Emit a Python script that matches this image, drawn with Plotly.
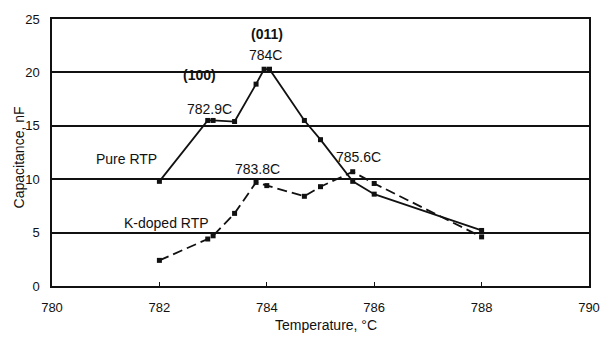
import plotly.graph_objects as go

# Data
pure_x = [782.0, 782.9, 783.0, 783.4, 783.8, 783.95, 784.05, 784.7, 785.0, 785.6, 786.0, 788.0]
pure_y = [9.8, 15.5, 15.5, 15.4, 18.9, 20.3, 20.3, 15.5, 13.7, 9.8, 8.6, 5.2]

kdoped_x = [782.0, 782.9, 783.0, 783.4, 783.8, 784.0, 784.7, 785.0, 785.6, 786.0, 788.0]
kdoped_y = [2.4, 4.4, 4.7, 6.8, 9.7, 9.4, 8.4, 9.3, 10.7, 9.6, 4.6]

x_ticks = [780, 782, 784, 786, 788, 790]
y_ticks = [0, 5, 10, 15, 20, 25]

label_texts = ["(011)", "784C", "(100)", "782.9C", "Pure RTP", "783.8C", "785.6C", "K-doped RTP"]
label_x = [784.01, 783.98, 782.75, 782.93, 781.39, 783.82, 785.71, 782.13]
label_y = [23.6, 21.65, 19.8, 16.55, 11.85, 11.0, 12.05, 5.9]
label_bold = [True, False, True, False, False, False, False, False]

FONT = "Liberation Sans, Arial, sans-serif"
INK = "#111111"

fig = go.Figure()
fig.add_trace(go.Scatter(
    x=pure_x, y=pure_y, mode="lines+markers", name="Pure RTP",
    line=dict(color=INK, width=1.8),
    marker=dict(symbol="square", size=5, color=INK),
))
fig.add_trace(go.Scatter(
    x=kdoped_x, y=kdoped_y, mode="lines+markers", name="K-doped RTP",
    line=dict(color=INK, width=1.8, dash="10px,5px"),
    marker=dict(symbol="square", size=5, color=INK),
))

for t, x, y, b in zip(label_texts, label_x, label_y, label_bold):
    fig.add_annotation(
        x=x, y=y, xref="x", yref="y", text=f"<b>{t}</b>" if b else t,
        showarrow=False, font=dict(family=FONT, size=14, color=INK),
        xanchor="center", yanchor="middle",
    )

fig.add_annotation(
    x=(331.7 - 52) / 548, y=-(325 - 285.7) / 272, xref="paper", yref="paper",
    text="Temperature, °C", showarrow=False,
    font=dict(family=FONT, size=14, color=INK), xanchor="center", yanchor="middle",
)
fig.add_annotation(
    x=-(52 - 18) / 548, y=(285.7 - 155) / 272, xref="paper", yref="paper",
    text="Capacitance, nF", showarrow=False, textangle=-90,
    font=dict(family=FONT, size=14, color=INK), xanchor="center", yanchor="middle",
)

fig.update_layout(
    width=612, height=338,
    margin=dict(l=52, r=12, t=14, b=52),
    paper_bgcolor="white", plot_bgcolor="white",
    showlegend=False,
    font=dict(family=FONT, size=13, color=INK),
    xaxis=dict(
        range=[780, 790], tickvals=x_ticks, ticktext=[str(v) for v in x_ticks],
        showgrid=False, zeroline=False, showline=True, linecolor=INK, linewidth=1.5,
        mirror=True, ticks="inside", ticklen=4, tickcolor=INK, tickwidth=1,
        ticklabelstandoff=9, tickfont=dict(family=FONT, size=13, color=INK),
    ),
    yaxis=dict(
        range=[0, 25], tickvals=y_ticks, ticktext=[str(v) for v in y_ticks],
        showgrid=True, gridcolor=INK, gridwidth=1.5, zeroline=False,
        showline=True, linecolor=INK, linewidth=1.5, mirror=True,
        ticks="", ticklabelstandoff=8, tickfont=dict(family=FONT, size=13, color=INK),
    ),
)

fig.write_html("out.html")
